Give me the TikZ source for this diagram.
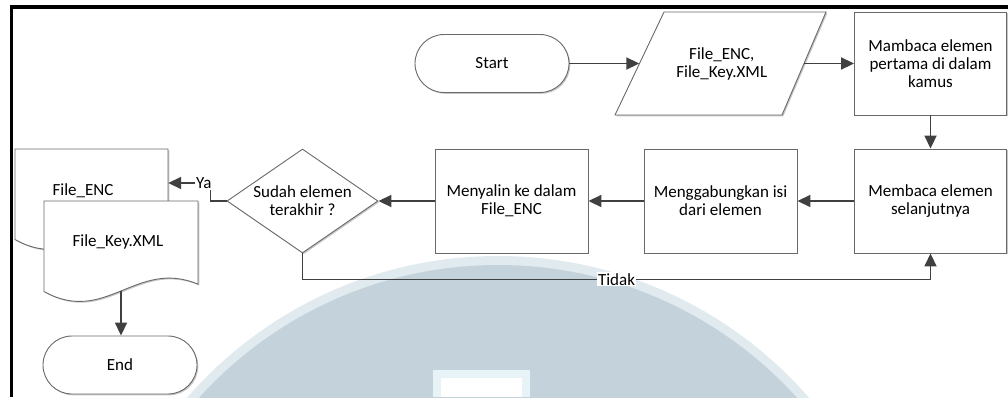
\documentclass[tikz,border=0pt]{standalone}
\usepackage{fontspec}
\setmainfont{Carlito}
\usetikzlibrary{shapes.geometric,shapes.misc,arrows.meta,shadows}

\definecolor{connector}{RGB}{64,64,64}
\definecolor{outline}{RGB}{105,105,105}
\definecolor{wmark}{RGB}{196,211,219}
\definecolor{wmarkedge}{RGB}{224,234,239}
\definecolor{wmarklight}{RGB}{232,243,247}

\newcommand\flowfont{\fontsize{17}{18}\selectfont}

\tikzset{
  shade/.style={drop shadow={shadow xshift=1.3pt,shadow yshift=-1.3pt,fill=black!22,opacity=1}},
  shapeline/.style={draw=outline,line width=0.9pt,fill=white,shade},
  box/.style={shapeline,rectangle,minimum width=152pt,minimum height=104pt,
    inner sep=0pt,align=center,font=\flowfont},
  term/.style={shapeline,rounded rectangle,rounded rectangle arc length=180,
    minimum width=154pt,minimum height=58pt,inner sep=0pt,font=\flowfont},
  decision/.style={shapeline,diamond,aspect=1.45,minimum width=151pt,
    minimum height=104pt,inner sep=0pt,align=center,font=\flowfont},
  txt/.style={align=center,font=\flowfont,inner sep=0pt},
  conn/.style={draw=connector,line width=1.8pt,
    -{Triangle[length=13pt,width=12pt]}},
  lbl/.style={fill=white,inner sep=1pt,font=\flowfont},
}

\begin{document}
\begin{tikzpicture}[x=1pt,y=-1pt]
\useasboundingbox (0,0) rectangle (1008,397);

% background seal, clipped to the page
\begin{scope}
  \clip (0,0) rectangle (1008,397);
  \fill[wmarkedge] (498,668) circle[radius=412pt];
  \fill[wmark] (498,668) circle[radius=403pt];
  \fill[wmarklight] (433,370) rectangle (530,397);
  \fill[white] (441,378) rectangle (522,397);
\end{scope}

% page border (top and left)
\draw[line width=4pt] (10,7) -- (1008,7);
\draw[line width=3.5pt] (11.7,5) -- (11.7,397);

% top row
\node[term] (start) at (492,63.5) {Start};

\path[shapeline] (664,12) -- (826,12) -- (782,115) -- (615,115) -- cycle;
\node[txt,minimum width=164.5pt,minimum height=103pt] (io) at (721.75,63.5)
  {File\_ENC,\\File\_Key.XML};

\node[box,minimum height=103pt] (r1) at (930.5,63.5)
  {Mambaca elemen\\pertama di dalam\\kamus};

% middle row
\node[box] (r2) at (930.5,201) {Membaca elemen\\selanjutnya};
\node[box,minimum width=153pt] (r3) at (720.5,201) {Menggabungkan isi\\dari elemen};
\node[box,minimum width=153pt] (r4) at (511.5,201) {Menyalin ke dalam\\File\_ENC};
\node[decision] (dec) at (302.5,201) {Sudah elemen\\terakhir ?};

% stacked output documents
\path[shapeline] (15,149) -- (168,149) -- (168,232.2)
  .. controls (106.8,206.2) and (76.2,273.8) .. (15,239.5) -- cycle;
\node[inner sep=0pt,minimum width=153pt,minimum height=104pt] (enc) at (91.5,201) {};
\node[txt] (enctext) at (83,191) {File\_ENC};

\path[shapeline] (44,201) -- (198,201) -- (198,284.2)
  .. controls (136.4,258.2) and (105.6,325.8) .. (44,291.5) -- cycle;
\node[inner sep=0pt,minimum width=154pt,minimum height=104pt] (key) at (121,253) {};
\node[txt] (keytext) at (118,242) {File\_Key.XML};

\node[term] (end) at (120,365) {End};

% connectors
\draw[conn] (start.east) -- (start.east -| io.west);
\draw[conn] (io.east) -- (io.east -| r1.west);
\draw[conn] (r1) -- (r2);
\draw[conn] (r2) -- (r3);
\draw[conn] (r3) -- (r4);
\draw[conn] (r4) -- (dec);

\path (enc.east) ++(0,-18) coordinate (yaend);
\draw[conn] (dec.west) -- ++(-16,0) |- (yaend) node[pos=0.58,lbl] {Ya};

\draw[conn] (dec.south) -- ++(0,26) -| (r2.south) node[pos=0.25,lbl] {Tidak};

\coordinate (keyout) at (121,291);
\draw[conn] (keyout) -- (keyout |- end.north);
\end{tikzpicture}
\end{document}
